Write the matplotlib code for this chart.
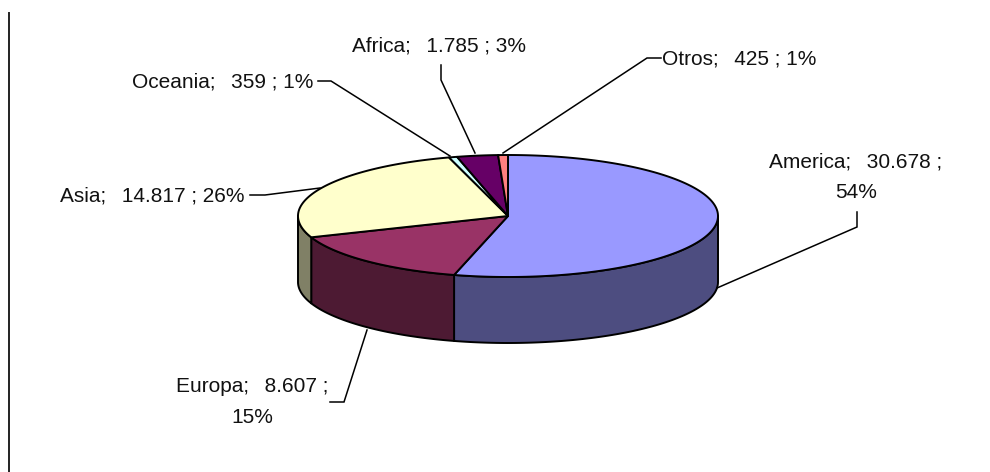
import numpy as np
import matplotlib
matplotlib.use("Agg")
import matplotlib.pyplot as plt
from matplotlib.patches import Polygon

categories = ["America", "Europa", "Asia", "Oceania", "Africa", "Otros"]
values = [30678, 8607, 14817, 359, 1785, 425]
value_labels = ["30.678", "8.607", "14.817", "359", "1.785", "425"]
percent_labels = ["54%", "15%", "26%", "1%", "3%", "1%"]
top_colors = ["#9999FF", "#993366", "#FFFFCC", "#CCFFFF", "#660066", "#FF8080"]
side_colors = ["#4D4D80", "#4D1A33", "#808066", "#668080", "#330033", "#804040"]

plt.rcParams["font.family"] = ["Liberation Sans", "DejaVu Sans"]
fig = plt.figure(figsize=(9.9, 4.72), dpi=100)
ax = fig.add_axes([0, 0, 1, 1])
ax.set_xlim(0, 990)
ax.set_ylim(472, 0)
ax.axis("off")

cx, cy, rx, ry, depth = 508, 216, 210, 61, 66
lw = 1.4

def pt(a):
    a = np.asarray(a)
    return cx + rx * np.sin(a), cy - ry * np.cos(a)

fr = np.cumsum([0] + values) / sum(values) * 2 * np.pi

for i in range(len(values)):
    a0, a1 = max(fr[i], np.pi / 2), min(fr[i + 1], 3 * np.pi / 2)
    if a1 > a0:
        t = np.linspace(a0, a1, 100)
        x, y = pt(t)
        xy = np.r_[np.c_[x, y], np.c_[x[::-1], y[::-1] + depth]]
        ax.add_patch(Polygon(xy, closed=True, fc=side_colors[i], ec="black", lw=lw, zorder=2, joinstyle="round"))

for i in range(len(values)):
    t = np.linspace(fr[i], fr[i + 1], 200)
    x, y = pt(t)
    xy = np.r_[[[cx, cy]], np.c_[x, y]]
    ax.add_patch(Polygon(xy, closed=True, fc=top_colors[i], ec="black", lw=lw, zorder=3, joinstyle="round"))

fs = 15
gap = "  \u2009"
def lab(i, x, y, ha="center", two_line=False, spacing=1.75):
    sep = " ;\n" if two_line else " ; "
    s = f"{categories[i]};{gap}{value_labels[i]}{sep}{percent_labels[i]}"
    ax.text(x, y, s, ha=ha, va="center", fontsize=fs, color="#111111", linespacing=spacing, zorder=5)

lab(0, 856, 177, two_line=True)
lab(1, 252, 402, two_line=True)
lab(2, 60, 196, ha="left")
lab(3, 132, 82, ha="left")
lab(4, 352, 46, ha="left")
lab(5, 662, 59, ha="left")

leaders = [
    ([857, 857, 717], [212, 227, 288]),
    ([330, 344, 367], [402, 402, 330]),
    ([250, 265, 320], [195, 195, 188]),
    ([318, 331, 450], [81, 81, 156]),
    ([441, 441, 475], [65, 80, 153]),
    ([661, 647, 503], [58, 58, 153]),
]
for xs, ys in leaders:
    ax.plot(xs, ys, color="black", lw=1.1, zorder=4, solid_joinstyle="miter")

ax.plot([9, 9], [13, 472], color="#222222", lw=1.4, zorder=1)
fig.savefig("out.png", dpi=100, facecolor="white")
